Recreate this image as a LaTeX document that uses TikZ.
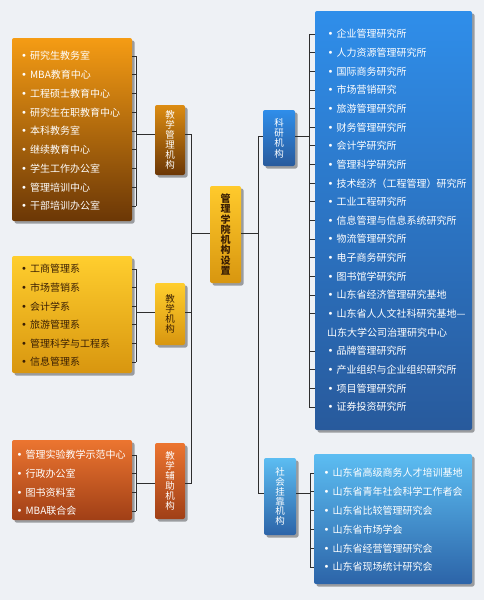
\documentclass[tikz,border=0pt]{standalone}
\usepackage{fontspec}
\setmainfont{Noto Sans CJK SC}
\newfontfamily\dejavu{DejaVu Sans}
\usepackage{xcolor}
\usetikzlibrary{shadows}
\definecolor{pagebg}{HTML}{EEF1F5}
\definecolor{linecolor}{HTML}{2E2E2E}
\definecolor{orangetop}{HTML}{F59C14}
\definecolor{orangebot}{HTML}{6B3706}
\definecolor{yellowtop}{HTML}{FFCE2E}
\definecolor{yellowbot}{HTML}{D8960F}
\definecolor{rusttop}{HTML}{EC7530}
\definecolor{rustbot}{HTML}{A03F16}
\definecolor{bluetop}{HTML}{2F8EEA}
\definecolor{bluebot}{HTML}{285A9C}
\definecolor{skytop}{HTML}{5CBDF2}
\definecolor{skybot}{HTML}{2C64A8}
\definecolor{darktext}{HTML}{3A1F04}
\newcommand{\bul}{% list bullet
{\dejavu\char"2022}\hspace{3pt}}
\tikzstyle{panel} =[
    rectangle,
    rounded corners=2pt,
    inner sep=0pt,
    draw=none,
    drop shadow={shadow xshift=2.5pt, shadow yshift=-2.5pt, opacity=0.35, fill=black}
    ]
\tikzstyle{headbox} =[
    panel,
    minimum width=30pt,
    align=center,
    font=\fontsize{9.5}{9.9}\selectfont
    ]
\tikzstyle{entry} =[
    anchor=west,
    inner sep=0pt,
    font=\fontsize{10}{11}\selectfont
    ]
\tikzstyle{wire} =[
    draw=linecolor,
    line width=0.9pt
    ]

\begin{document}
\begin{tikzpicture}[x=1pt, y=-1pt]
\fill[pagebg] (0,0) rectangle (484,600);
\useasboundingbox (0,0) rectangle (484,600);

% list panels
\node[panel, top color=orangetop, bottom color=orangebot, minimum width=120pt, minimum height=183pt] (jxgl) at (72,129.5) {};
\node[panel, top color=yellowtop, bottom color=yellowbot, minimum width=120pt, minimum height=117pt] (jx) at (72,314.5) {};
\node[panel, top color=rusttop, bottom color=rustbot, minimum width=120pt, minimum height=80pt] (fz) at (72,480) {};
\node[panel, top color=bluetop, bottom color=bluebot, minimum width=157pt, minimum height=419pt] (ky) at (393.5,220.5) {};
\node[panel, top color=skytop, bottom color=skybot, minimum width=158pt, minimum height=130pt] (sh) at (393,519) {};

% group titles
\node[headbox, top color=orangetop!90!black, bottom color=orangebot, text=white, minimum height=70pt] (jxglt) at (170,140) {教\\学\\管\\理\\机\\构};
\node[headbox, top color=yellowtop, bottom color=yellowbot, text=darktext, minimum height=62pt] (jxt) at (170,314) {教\\学\\机\\构};
\node[headbox, top color=rusttop, bottom color=rustbot, text=white, minimum height=76pt] (fzt) at (170,481) {教\\学\\辅\\助\\机\\构};
\node[headbox, top color=yellowtop!95!orange, bottom color=yellowbot, text=darktext, minimum width=31pt, minimum height=97pt, font=\fontsize{10}{10.3}\selectfont\bfseries] (root) at (225.5,234.5) {管\\理\\学\\院\\机\\构\\设\\置};
\node[headbox, top color=bluetop, bottom color=bluebot, text=white, minimum width=32pt, minimum height=56pt, font=\fontsize{9.5}{10.3}\selectfont] (kyt) at (279,138) {科\\研\\机\\构};
\node[headbox, top color=skytop, bottom color=skybot, text=white, minimum width=32pt, minimum height=77pt] (sht) at (280,496.5) {社\\会\\挂\\靠\\机\\构};

% entries
\foreach \t [count=\i from 0] in {研究生教务室, MBA教育中心, 工程硕士教育中心, 研究生在职教育中心, 本科教务室, 继续教育中心, 学生工作办公室, 管理培训中心, 干部培训办公室}
    \node[entry, text=white] (jxgl-\i) at (21,56+18.75*\i) {\bul\t};
\foreach \t [count=\i from 0] in {工商管理系, 市场营销系, 会计学系, 旅游管理系, 管理科学与工程系, 信息管理系}
    \node[entry, text=darktext] (jx-\i) at (21,269+18.6*\i) {\bul\t};
\foreach \t [count=\i from 0] in {管理实验教学示范中心, 行政办公室, 图书资料室, MBA联合会}
    \node[entry, text=white] (fz-\i) at (16.5,455+18.67*\i) {\bul\t};
\foreach \t [count=\i from 0] in {企业管理研究所, 人力资源管理研究所, 国际商务研究所, 市场营销研究, 旅游管理研究所, 财务管理研究所, 会计学研究所, 管理科学研究所, 技术经济（工程管理）研究所, 工业工程研究所, 信息管理与信息系统研究所, 物流管理研究所, 电子商务研究所, 图书馆学研究所, 山东省经济管理研究基地, 山东省人人文社科研究基地—}
    \node[entry, text=white] (ky-\i) at (327.5,34+18.65*\i) {\bul\t};
\node[entry, text=white] (ky-16) at (327,34+18.65*16) {山东大学公司治理研究中心};
\foreach \t [count=\i from 17] in {品牌管理研究所, 产业组织与企业组织研究所, 项目管理研究所, 证券投资研究所}
    \node[entry, text=white] (ky-\i) at (327.5,34+18.65*\i) {\bul\t};
\foreach \t [count=\i from 0] in {山东省高级商务人才培训基地, 山东省青年社会科学工作者会, 山东省比较管理研究会, 山东省市场学会, 山东省经营管理研究会, 山东省现场统计研究会}
    \node[entry, text=white] (sh-\i) at (323.5,473+18.8*\i) {\bul\t};

% junctions
\coordinate (j1) at (136,134.5);
\coordinate (j2) at (136,312.5);
\coordinate (j3) at (136,483.5);
\coordinate (lt) at (191,233.5);
\coordinate (rt) at (258,233.5);
\coordinate (k1) at (309,136);
\coordinate (s1) at (310,493.5);

% brackets
\draw[wire] (j1 |- jxgl-0) -- (j1 |- jxgl-8);
\foreach \i in {0,...,8} \draw[wire] (jxgl.east |- jxgl-\i) -- (j1 |- jxgl-\i);
\draw[wire] (j2 |- jx-0) -- (j2 |- jx-5);
\foreach \i in {0,...,5} \draw[wire] (jx.east |- jx-\i) -- (j2 |- jx-\i);
\draw[wire] (j3 |- fz-0) -- (j3 |- fz-3);
\foreach \i in {0,...,3} \draw[wire] (fz.east |- fz-\i) -- (j3 |- fz-\i);
\draw[wire] (k1 |- ky-0) -- (k1 |- ky-20);
\foreach \i in {0,...,15,17,18,19,20} \draw[wire] (k1 |- ky-\i) -- (ky.west |- ky-\i);
\draw[wire] (s1 |- sh-0) -- (s1 |- sh-5);
\foreach \i in {0,...,5} \draw[wire] (s1 |- sh-\i) -- (sh.west |- sh-\i);

% tree
\draw[wire] (j1) -- (j1 -| jxglt.west);
\draw[wire] (j2) -- (j2 -| jxt.west);
\draw[wire] (j3) -- (j3 -| fzt.west);
\draw[wire] (jxglt.east |- j1) -| (lt |- j3) -- (fzt.east |- j3);
\draw[wire] (jxt.east |- j2) -- (lt |- j2);
\draw[wire] (lt) -- (root.west |- lt);
\draw[wire] (root.east |- rt) -- (rt);
\draw[wire] (kyt.west |- k1) -| (rt |- s1) -- (sht.west |- s1);
\draw[wire] (kyt.east |- k1) -- (k1);
\draw[wire] (sht.east |- s1) -- (s1);
\end{tikzpicture}
\end{document}
